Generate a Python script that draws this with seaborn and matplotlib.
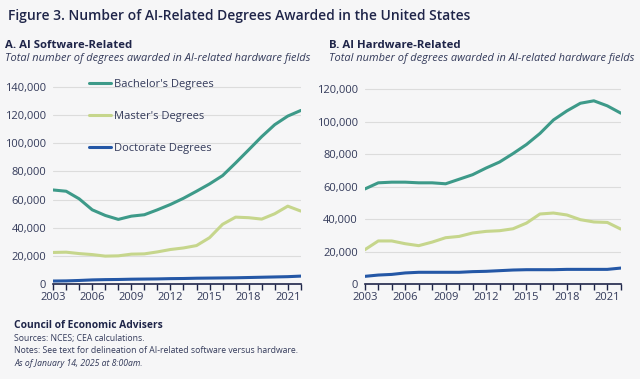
import matplotlib.pyplot as plt
import pandas as pd
import seaborn as sns

sns.set_theme(style="white")
plt.rcParams["font.family"] = ["Open Sans", "DejaVu Sans"]

years = list(range(2003, 2023))
degree_types = ["Bachelor's Degrees", "Master's Degrees", "Doctorate Degrees"]

sw_bachelor = [66800, 65900, 60500, 52700, 48700, 45900, 48200, 49200, 52700, 56500,
               60900, 65900, 71100, 77000, 86000, 95300, 104700, 113200, 119300, 123300]
sw_master = [22400, 22600, 21600, 20900, 19800, 20000, 21200, 21400, 22800, 24500,
             25600, 27300, 32900, 42400, 47500, 47100, 46100, 49900, 55300, 51800]
sw_doctorate = [2100, 2200, 2500, 2900, 3100, 3200, 3400, 3500, 3600, 3800,
                3900, 4100, 4200, 4300, 4400, 4600, 4800, 5000, 5200, 5600]

hw_bachelor = [58500, 62300, 62700, 62700, 62300, 62300, 61700, 64500, 67300, 71400,
               75100, 80300, 85900, 92700, 101000, 106600, 111300, 112800, 109700, 105200]
hw_master = [21100, 26500, 26500, 24800, 23600, 25800, 28500, 29300, 31400, 32400,
             32800, 34000, 37500, 43100, 43700, 42500, 39600, 38200, 37900, 33800]
hw_doctorate = [4700, 5500, 5900, 6800, 7200, 7200, 7200, 7200, 7600, 7800,
                8200, 8600, 8800, 8800, 8800, 9000, 9000, 9000, 9000, 9800]

palette = {"Bachelor's Degrees": "#3d9a89",
           "Master's Degrees": "#c6d68c",
           "Doctorate Degrees": "#2457a6"}
navy = "#1f2549"
grey_text = "#333a5a"
bg = "#f6f6f7"


def to_long(bach, mast, doc):
    df = pd.DataFrame({"year": years, degree_types[0]: bach,
                       degree_types[1]: mast, degree_types[2]: doc})
    return df.melt(id_vars="year", var_name="degree", value_name="count")


def style_ax(ax, ymax, ystep):
    ax.set_facecolor(bg)
    ax.set_xlim(2003, 2022)
    ax.set_ylim(0, ymax)
    ax.set_yticks(range(0, ymax, ystep))
    ax.set_yticklabels([f"{v:,}" for v in range(0, ymax, ystep)])
    ax.set_xticks(years, minor=True)
    ax.set_xticks(range(2003, 2023, 3))
    ax.tick_params(axis="x", which="both", bottom=True, length=4, width=1,
                   color=navy, direction="out", labelsize=8, labelcolor=grey_text, pad=2)
    ax.tick_params(axis="y", length=0, labelsize=8, labelcolor=grey_text, pad=5)
    ax.grid(axis="y", color="#dcdcdc", linewidth=0.8)
    ax.set_axisbelow(True)
    for s in ["top", "right", "left"]:
        ax.spines[s].set_visible(False)
    ax.spines["bottom"].set_color(navy)
    ax.spines["bottom"].set_linewidth(1.2)
    ax.set_xlabel("")
    ax.set_ylabel("")


fig = plt.figure(figsize=(6.4, 3.79), dpi=100, facecolor=bg)
ax1 = fig.add_axes([0.083, 0.2507, 0.387, 0.557])
ax2 = fig.add_axes([0.570, 0.2507, 0.400, 0.557])

sns.lineplot(data=to_long(sw_bachelor, sw_master, sw_doctorate), x="year", y="count",
             hue="degree", palette=palette, linewidth=2.2, ax=ax1)
sns.lineplot(data=to_long(hw_bachelor, hw_master, hw_doctorate), x="year", y="count",
             hue="degree", palette=palette, linewidth=2.2, ax=ax2, legend=False)

style_ax(ax1, 150000, 20000)
style_ax(ax2, 130000, 20000)

ax1.legend(loc="upper left", bbox_to_anchor=(0.105, 1.02), frameon=False,
           fontsize=8, labelspacing=1.9, handlelength=2.0, handletextpad=0.2,
           labelcolor=grey_text)

fig.text(0.012, 0.957, "Figure 3. Number of AI-Related Degrees Awarded in the United States",
         fontsize=10, fontweight="semibold", color=navy, va="center")
fig.text(0.008, 0.881, "A. AI Software-Related", fontsize=8.2, fontweight="bold",
         color=navy, va="center")
fig.text(0.008, 0.846, "Total number of degrees awarded in AI-related hardware fields",
         fontsize=7.9, style="italic", color=grey_text, va="center")
fig.text(0.514, 0.881, "B. AI Hardware-Related", fontsize=8.2, fontweight="bold",
         color=navy, va="center")
fig.text(0.514, 0.846, "Total number of degrees awarded in AI-related hardware fields",
         fontsize=7.9, style="italic", color=grey_text, va="center")

fig.text(0.022, 0.140, "Council of Economic Advisers", fontsize=7.4, fontweight="bold",
         color=navy, va="center")
fig.text(0.022, 0.107, "Sources: NCES; CEA calculations.", fontsize=6.2,
         color=grey_text, va="center")
fig.text(0.022, 0.074, "Notes: See text for delineation of AI-related software versus hardware.",
         fontsize=6.2, color=grey_text, va="center")
fig.text(0.022, 0.042, "As of January 14, 2025 at 8:00am.", fontsize=6.2, style="italic",
         color=grey_text, va="center")

fig.savefig("out.png", dpi=100, facecolor=bg)
